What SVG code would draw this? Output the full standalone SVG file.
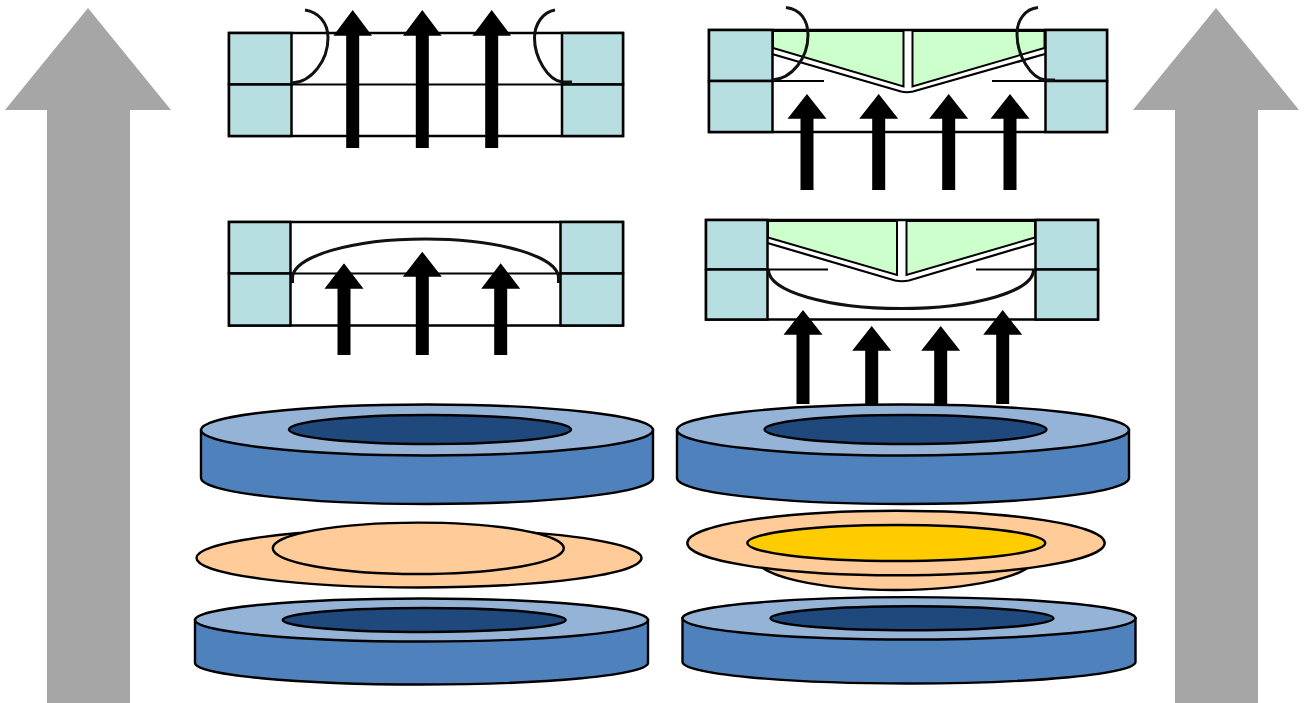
<svg xmlns="http://www.w3.org/2000/svg" width="1312" height="703" viewBox="0 0 1312 703">
<style>
.cell{fill:#b7dfe2;stroke:#000;stroke-width:2.500}
.box{fill:#fff;stroke:#000;stroke-width:2.500}
.ln{fill:none;stroke:#000;stroke-width:2.200}
.crv{fill:none;stroke:#111;stroke-width:3}
.gr{fill:#ccffcc;stroke:#000;stroke-width:2}
.arr{fill:#000}
.big{fill:#a6a6a6}
.dt{fill:#95b3d7;stroke:#000;stroke-width:2.400}
.ds{fill:#4f81bd;stroke:#000;stroke-width:2.400}
.di{fill:#1f497d;stroke:#000;stroke-width:2.400}
.or{fill:#ffcc99;stroke:#000;stroke-width:2.400}
.ye{fill:#ffcc00;stroke:#000;stroke-width:2.400}
</style>
<g id="lift-left"><polygon class="big" points="88,8 171,110 130,110 130,703 47,703 47,110 5,110"/></g>
<g id="lift-right"><polygon class="big" points="1216,8 1299,110 1258,110 1258,703 1175,703 1175,110 1133,110"/></g>

<g id="panel-top-left">
<rect class="box" x="229" y="33" width="394" height="103"/>
<rect class="cell" x="229" y="33" width="62.500" height="51.500"/><rect class="cell" x="229" y="84.500" width="62.500" height="51.500"/>
<rect class="cell" x="562" y="33" width="61" height="51.500"/><rect class="cell" x="562" y="84.500" width="61" height="51.500"/>
<path class="ln" d="M291.500 84.500H562"/>
<path class="crv" d="M305 10C318 12 328 22 328 38C328 60 312 82 292 83"/>
<path class="crv" d="M555 10C543 12 534.500 24 534.500 38C534.500 58 548 80 562 82H572"/>
</g>

<g id="panel-top-right">
<rect class="box" x="709" y="30" width="398" height="102"/>
<rect class="cell" x="709" y="30" width="63.500" height="51"/><rect class="cell" x="709" y="81" width="63.500" height="51"/>
<rect class="cell" x="1045.500" y="30" width="61.500" height="51"/><rect class="cell" x="1045.500" y="81" width="61.500" height="51"/>
<polygon class="gr" points="773,31 903.500,31 903.500,86.500 773,48"/>
<polygon class="gr" points="912.500,31 1044.500,31 1044.500,48 912.500,86.500"/>
<path class="ln" d="M772 54L901 91.500Q907 93 913 91.500L1045 54"/>
<path class="ln" d="M772.500 81H824M992 81H1045.500"/>
<path class="crv" d="M786 7.500C800 9 808 20 808 35C808 58 792 79 772 80"/>
<path class="crv" d="M1038 7.500C1025 9 1017 20 1017 34C1017 56 1031 78 1045 80H1055"/>
</g>

<g id="panel-mid-left">
<rect class="box" x="229" y="222" width="394" height="103.500"/>
<rect class="cell" x="229" y="222" width="61.500" height="51.500"/><rect class="cell" x="229" y="273.500" width="61.500" height="52"/>
<rect class="cell" x="560.500" y="222" width="62.500" height="51.500"/><rect class="cell" x="560.500" y="273.500" width="62.500" height="52"/>
<path class="ln" d="M290.500 273.500H560.500"/>
<path class="crv" d="M292.500 283V278A133 39 0 0 1 558.500 278V283"/>
</g>

<g id="panel-mid-right">
<rect class="box" x="706" y="220" width="392" height="99.500"/>
<rect class="cell" x="706" y="220" width="61.500" height="49.500"/><rect class="cell" x="706" y="269.500" width="61.500" height="50"/>
<rect class="cell" x="1035.500" y="220" width="62.500" height="49.500"/><rect class="cell" x="1035.500" y="269.500" width="62.500" height="50"/>
<polygon class="gr" points="768,221 897,221 897,275 768,237.500"/>
<polygon class="gr" points="906.500,221 1035,221 1035,237.500 906.500,275"/>
<path class="ln" d="M767.500 243L895 280.500Q902 282 909 280.500L1035.500 243"/>
<path class="ln" d="M767.500 269.500H828M976 269.500H1035.500"/>
<path class="crv" d="M768.500 270A132.500 38.500 0 0 0 1033.500 270"/>
</g>

<g id="connectors">
<path class="arr" d="M352.700 10L372 35.700H359.200V148H346.200V35.700H333.400Z"/>
<path class="arr" d="M422.300 10L441.600 35.700H428.800V148H415.800V35.700H403Z"/>
<path class="arr" d="M491.700 10L511 35.700H498.200V148H485.200V35.700H472.400Z"/>
<path class="arr" d="M807 94L826.500 118.700H813.500V190H800.500V118.700H787.500Z"/>
<path class="arr" d="M878.700 94L898.200 118.700H885.200V190H872.200V118.700H859.200Z"/>
<path class="arr" d="M948.700 94L968.200 118.700H955.200V190H942.200V118.700H929.200Z"/>
<path class="arr" d="M1010 94L1029.500 118.700H1016.500V190H1003.500V118.700H990.500Z"/>
<path class="arr" d="M344 263.300L363.500 288.700H350.500V355H337.500V288.700H324.500Z"/>
<path class="arr" d="M422.300 251.700L441.800 276.700H428.800V355H415.800V276.700H402.800Z"/>
<path class="arr" d="M500.700 263.300L520.200 288.700H507.200V355H494.200V288.700H481.200Z"/>
<path class="arr" d="M803 310L822.500 334.700H809.500V404H796.500V334.700H783.500Z"/>
<path class="arr" d="M871.700 326L891.200 350.700H878.200V404H865.200V350.700H852.200Z"/>
<path class="arr" d="M940.700 326L960.200 350.700H947.200V404H934.200V350.700H921.200Z"/>
<path class="arr" d="M1002.700 310L1022.200 334.700H1009.200V404H996.200V334.700H983.200Z"/>
</g>

<g id="disc-upper-left">
<path class="ds" d="M201 430V478A226 26 0 0 0 653 478V430Z"/>
<ellipse class="dt" cx="427" cy="430" rx="226" ry="25.500"/>
<ellipse class="di" cx="430" cy="429.500" rx="141" ry="14.500"/>
</g>
<g id="disc-upper-right">
<path class="ds" d="M677 430V478A226 26 0 0 0 1129 478V430Z"/>
<ellipse class="dt" cx="903" cy="430" rx="226" ry="25.500"/>
<ellipse class="di" cx="905.500" cy="429.500" rx="141" ry="14.500"/>
</g>
<g id="wafer-left">
<ellipse class="or" cx="419" cy="558" rx="222.500" ry="29.500"/>
<ellipse class="or" cx="418.300" cy="548.300" rx="145.500" ry="25.700"/>
</g>
<g id="wafer-right">
<ellipse class="or" cx="895" cy="558" rx="139" ry="32"/>
<ellipse class="or" cx="896" cy="543" rx="208.700" ry="32.300"/>
<ellipse class="ye" cx="896.300" cy="543" rx="149" ry="18"/>
</g>
<g id="disc-lower-left">
<path class="ds" d="M195 620V663A226.500 21.500 0 0 0 648 663V620Z"/>
<ellipse class="dt" cx="421.500" cy="620" rx="226.500" ry="21.500"/>
<ellipse class="di" cx="424.200" cy="620" rx="141.500" ry="12"/>
</g>
<g id="disc-lower-right">
<path class="ds" d="M682.500 618.300V662A226.500 21.500 0 0 0 1135.500 662V618.300Z"/>
<ellipse class="dt" cx="909" cy="618.300" rx="226.500" ry="21.200"/>
<ellipse class="di" cx="912" cy="618.300" rx="141.500" ry="12"/>
</g>
</svg>
